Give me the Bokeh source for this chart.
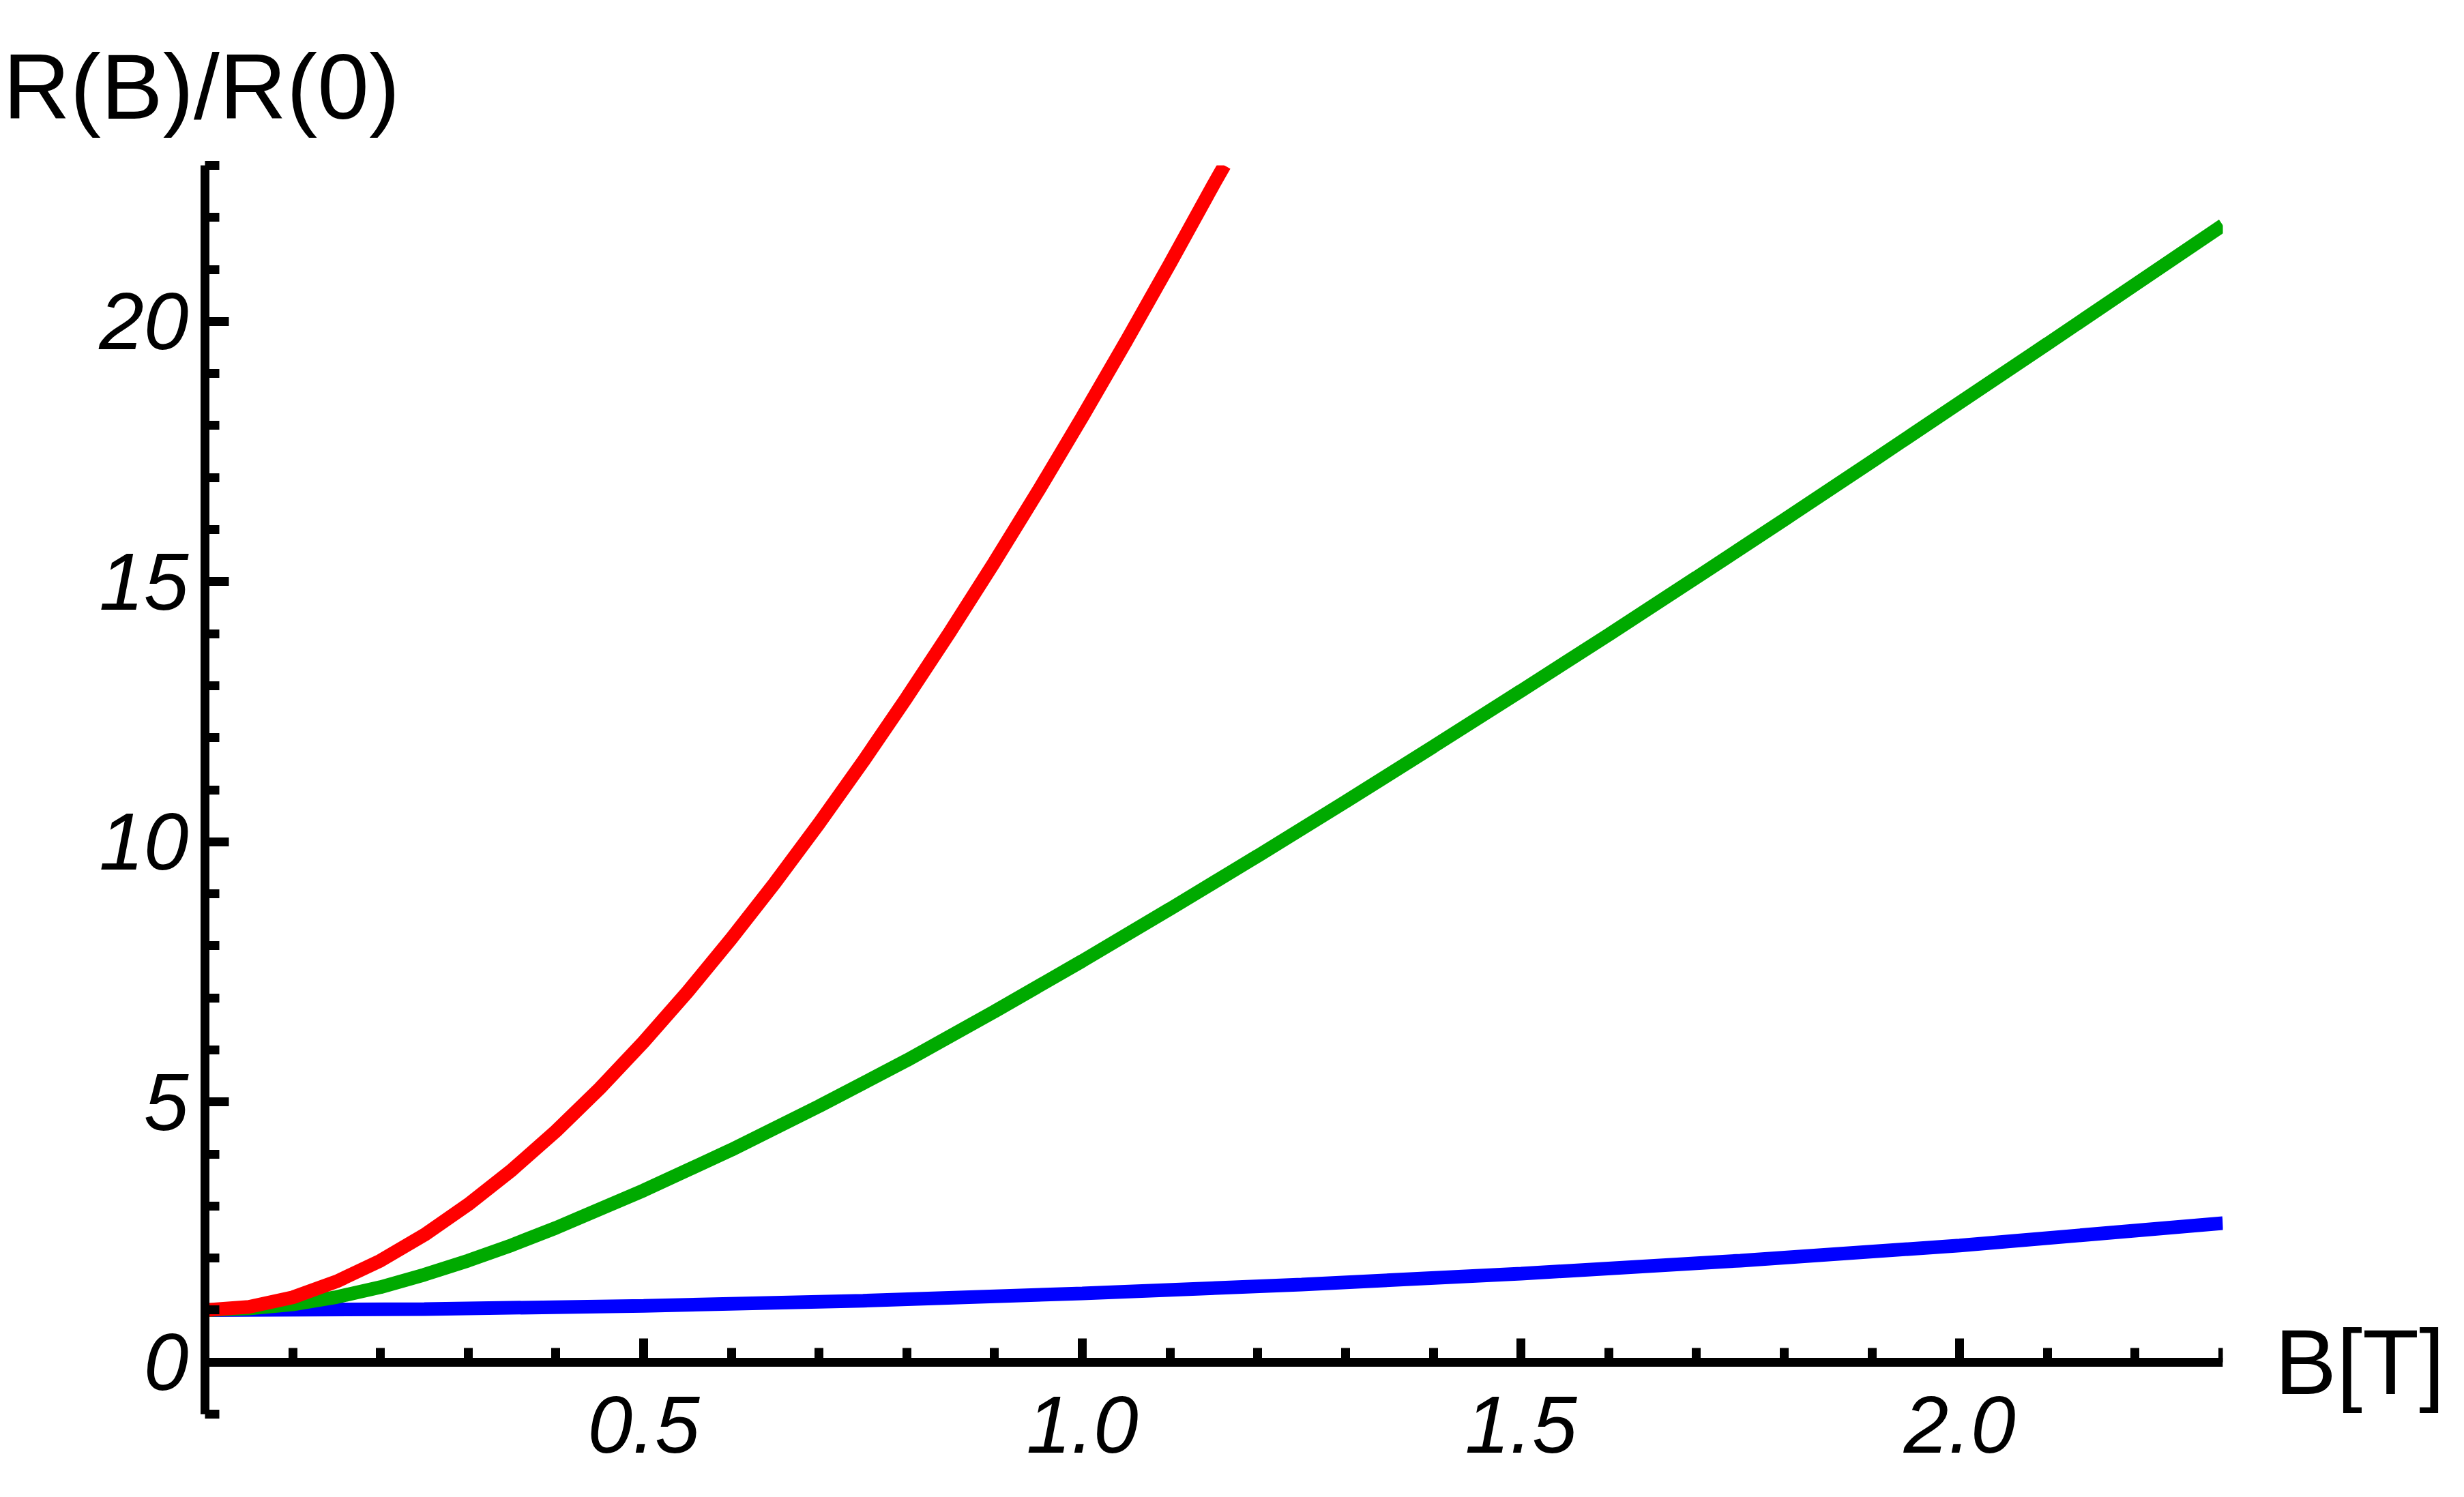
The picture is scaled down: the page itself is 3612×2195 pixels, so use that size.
from bokeh.plotting import figure
from bokeh.models import (Range1d, LinearAxis, FixedTicker, PrintfTickFormatter,
                          CustomJSTickFormatter)
from bokeh.embed import file_html
from bokeh.resources import INLINE

# ---- data ----
red_B = [0.0, 0.05, 0.1, 0.15, 0.2, 0.25, 0.3, 0.35, 0.4, 0.45, 0.5, 0.55, 0.6,
         0.65, 0.7, 0.75, 0.8, 0.85, 0.9, 0.95, 1.0, 1.05, 1.1, 1.15, 1.162]
red_R = [1.0, 1.06, 1.245, 1.55, 1.95, 2.445, 3.03, 3.695, 4.44, 5.26, 6.155, 7.115,
         8.14, 9.22, 10.355, 11.54, 12.775, 14.055, 15.38, 16.75, 18.165, 19.62,
         21.115, 22.645, 23.0]

green_B = [0.0, 0.05, 0.1, 0.15, 0.2, 0.25, 0.3, 0.35, 0.4, 0.5, 0.6, 0.7, 0.8, 0.9,
           1.0, 1.1, 1.2, 1.3, 1.4, 1.5, 1.6, 1.7, 1.8, 1.9, 2.0, 2.1, 2.2, 2.3]
green_R = [1.0, 1.03, 1.11, 1.25, 1.44, 1.68, 1.95, 2.25, 2.58, 3.30, 4.08, 4.92, 5.80,
           6.74, 7.71, 8.71, 9.73, 10.77, 11.83, 12.90, 13.98, 15.08, 16.19, 17.31,
           18.44, 19.57, 20.71, 21.85]

blue_B = [0.0, 0.25, 0.5, 0.75, 1.0, 1.25, 1.5, 1.75, 2.0, 2.3]
blue_R = [1.0, 1.02, 1.08, 1.18, 1.32, 1.49, 1.70, 1.95, 2.24, 2.67]

x_major = [0.5, 1.0, 1.5, 2.0]
x_minor = [0.1, 0.2, 0.3, 0.4, 0.6, 0.7, 0.8, 0.9, 1.1, 1.2, 1.3, 1.4,
           1.6, 1.7, 1.8, 1.9, 2.1, 2.2, 2.3]
y_major = [0, 5, 10, 15, 20]
y_minor = [-1, 1, 2, 3, 4, 6, 7, 8, 9, 11, 12, 13, 14, 16, 17, 18, 19, 21, 22, 23]

x_label = "B[T]"
y_label = "R(B)/R(0)"

# ---- figure ----
W, H = 3604, 2187
p = figure(width=W, height=H, output_backend="svg", toolbar_location=None,
           x_range=Range1d(0, 2.3), y_range=Range1d(-1, 23),
           x_axis_location=None, y_axis_location=None,
           min_border_left=300, min_border_right=346,
           min_border_top=242, min_border_bottom=114)
p.grid.visible = False
p.outline_line_color = None
p.background_fill_color = "white"
p.border_fill_color = "white"

FONT = "Liberation Sans"
AX_W = 13

# y-axis label as a left-aligned title above the plot
p.title.text = y_label
p.title.align = "left"
p.title.offset = -296
p.title.text_font = FONT
p.title.text_font_style = "normal"
p.title.text_font_size = "136px"
p.title.text_color = "black"
p.title.standoff = 80

yaxis = LinearAxis(ticker=FixedTicker(ticks=y_major, minor_ticks=y_minor))
yaxis.axis_line_width = AX_W
yaxis.axis_line_color = "black"
yaxis.major_tick_in = 35
yaxis.major_tick_out = 0
yaxis.minor_tick_in = 21
yaxis.minor_tick_out = 0
yaxis.major_tick_line_width = AX_W
yaxis.minor_tick_line_width = AX_W
yaxis.major_label_text_font = FONT
yaxis.major_label_text_font_style = "italic"
yaxis.major_label_text_font_size = "118px"
yaxis.major_label_text_color = "black"
yaxis.major_label_standoff = 24
p.add_layout(yaxis, "left")

# x tick labels below the plot area
xaxis_lab = LinearAxis(ticker=FixedTicker(ticks=x_major),
                       formatter=PrintfTickFormatter(format="%.1f"))
xaxis_lab.axis_line_color = None
xaxis_lab.major_tick_in = 0
xaxis_lab.major_tick_out = 0
xaxis_lab.minor_tick_in = 0
xaxis_lab.minor_tick_out = 0
xaxis_lab.major_tick_line_color = None
xaxis_lab.minor_tick_line_color = None
xaxis_lab.major_label_text_font = FONT
xaxis_lab.major_label_text_font_style = "italic"
xaxis_lab.major_label_text_font_size = "118px"
xaxis_lab.major_label_text_color = "black"
xaxis_lab.major_label_standoff = -26
p.add_layout(xaxis_lab, "below")

# x axis line + upward ticks drawn at y = 0
xaxis_line = LinearAxis(fixed_location=0,
                        ticker=FixedTicker(ticks=x_major, minor_ticks=x_minor),
                        formatter=CustomJSTickFormatter(code="return ''"))
xaxis_line.axis_line_width = AX_W
xaxis_line.axis_line_color = "black"
xaxis_line.major_tick_in = 35
xaxis_line.major_tick_out = 0
xaxis_line.minor_tick_in = 21
xaxis_line.minor_tick_out = 0
xaxis_line.major_tick_line_width = AX_W
xaxis_line.minor_tick_line_width = AX_W
xaxis_line.major_label_standoff = 0
p.add_layout(xaxis_line, "below")

# x-axis label "B[T]" at the right end of the x axis (y = 0)
xname_axis = LinearAxis(ticker=FixedTicker(ticks=[0], minor_ticks=[]),
                        major_label_overrides={0: x_label})
xname_axis.axis_line_color = None
xname_axis.major_tick_in = 0
xname_axis.major_tick_out = 0
xname_axis.minor_tick_in = 0
xname_axis.minor_tick_out = 0
xname_axis.major_tick_line_color = None
xname_axis.minor_tick_line_color = None
xname_axis.major_label_text_font = FONT
xname_axis.major_label_text_font_size = "136px"
xname_axis.major_label_text_color = "black"
xname_axis.major_label_standoff = 76
p.add_layout(xname_axis, "right")

# curves
p.line(blue_B, blue_R, line_width=20, line_color="#0000FF")
p.line(green_B, green_R, line_width=20, line_color="#00AA00")
p.line(red_B, red_R, line_width=20, line_color="#FF0000")

open("out.html", "w").write(file_html(p, INLINE))
